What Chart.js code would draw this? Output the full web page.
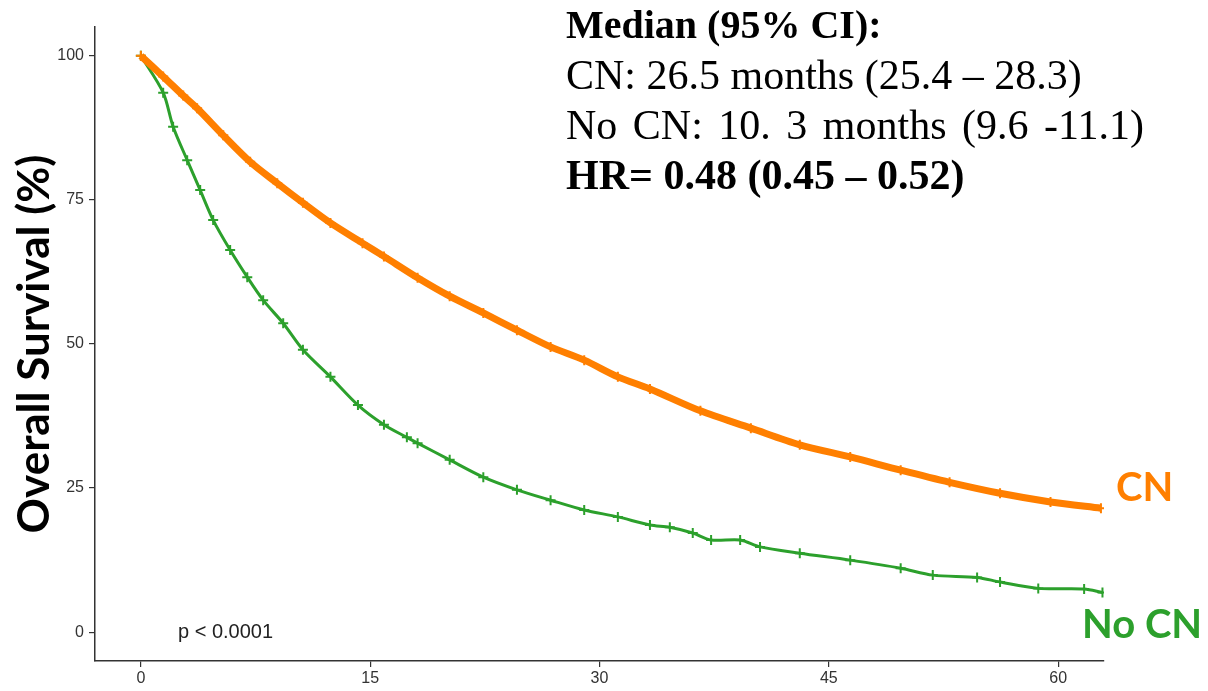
<!DOCTYPE html>
<html>
<head>
<meta charset="utf-8">
<script src="https://cdn.jsdelivr.net/npm/chart.js@4.4.1/dist/chart.umd.min.js"></script>
<style>
  body { margin: 0; background: #fff; }
  #wrap { position: relative; width: 1208px; height: 691px; }
  .note { position: absolute; font-family: "Liberation Serif", "Times New Roman", serif; font-size: 42px; line-height: 50px; color: #000; white-space: nowrap; }
  .lbl { position: absolute; font-family: Lato, "Open Sans", sans-serif; font-weight: bold; font-size: 40px; line-height: 40px; white-space: nowrap; }
</style>
</head>
<body>
<div id="wrap">
  <canvas id="km"></canvas>
  <div class="note" style="left:566px; top:-1px;">
    <b style="font-size:40px">Median (95% CI):</b><br>
    CN: 26.5 months (25.4 – 28.3)<br>
    <span style="word-spacing:5px">No CN: 10. 3 months (9.6 -11.1)</span><br>
    <b>HR= 0.48 (0.45 – 0.52)</b>
  </div>
  <div class="lbl" style="left:1116px; top:466px; color:#ff7f00;">CN</div>
  <div class="lbl" style="left:1082px; top:603px; color:#2ca02c;">No CN</div>
  <div style="position:absolute; left:178px; top:620px; font-family:'Liberation Sans', Arial, sans-serif; font-size:20px; color:#222;">p &lt; 0.0001</div>
</div>
<script>
// survival curves (months, % alive)
const cnMonths = [0, 1.46, 2.77, 3.68, 5.39, 7.15, 8.92, 10.6, 12.4, 14.5, 15.9, 18.1, 20.2, 22.4, 24.6, 26.8, 29.0, 31.2, 33.3, 36.6, 39.9, 43.1, 46.4, 49.7, 52.9, 56.2, 59.5, 62.8];
const cnSurv   = [100, 96.4, 93.1, 90.9, 86.2, 81.6, 77.9, 74.5, 71.0, 67.5, 65.2, 61.5, 58.3, 55.4, 52.4, 49.5, 47.2, 44.3, 42.2, 38.4, 35.4, 32.5, 30.4, 28.1, 26.0, 24.1, 22.6, 21.5];

const noCnMonths = [0, 1.46, 2.11, 3.03, 3.88, 4.73, 5.84, 6.96, 8.0, 9.31, 10.6, 12.4, 14.2, 15.9, 17.4, 18.1, 20.2, 22.4, 24.6, 26.8, 29.0, 31.2, 33.3, 34.6, 36.1, 37.3, 39.2, 40.5, 43.1, 46.4, 49.7, 51.8, 54.7, 56.2, 58.7, 61.7, 62.9];
const noCnSurv   = [100, 93.6, 87.7, 81.9, 76.7, 71.5, 66.3, 61.6, 57.6, 53.6, 49.0, 44.3, 39.4, 36.0, 33.8, 32.8, 29.9, 26.9, 24.7, 22.9, 21.2, 20.0, 18.6, 18.2, 17.2, 16.0, 16.0, 14.8, 13.7, 12.5, 11.1, 9.9, 9.5, 8.7, 7.6, 7.5, 6.9];

const xTicks = [0, 15, 30, 45, 60];
const yTicks = [0, 25, 50, 75, 100];

const toPoints = (xs, ys) => xs.map((x, i) => ({ x: x, y: ys[i] }));

const tickFont = { family: "'Liberation Sans', Arial, sans-serif", size: 16 };

new Chart(document.getElementById('km'), {
    type: 'line',
    data: {
        datasets: [
            {
                label: 'CN',
                data: toPoints(cnMonths, cnSurv),
                borderColor: '#ff7f00',
                backgroundColor: '#ff7f00',
                borderWidth: 7,
                pointStyle: 'cross',
                pointRadius: 5,
                pointBorderWidth: 2,
                tension: 0.3
            },
            {
                label: 'No CN',
                data: toPoints(noCnMonths, noCnSurv),
                borderColor: '#2ca02c',
                backgroundColor: '#2ca02c',
                borderWidth: 3,
                pointStyle: 'cross',
                pointRadius: 5,
                pointBorderWidth: 2,
                tension: 0.3
            }
        ]
    },
    options: {
        responsive: true,
        maintainAspectRatio: false,
        animation: false,
        layout: { padding: { top: 27, right: 104, left: 0, bottom: 0 } },
        plugins: {
            legend: { display: false },
            tooltip: { enabled: false }
        },
        scales: {
            x: {
                type: 'linear',
                min: -3,
                max: 63,
                afterBuildTicks: s => { s.ticks = xTicks.map(v => ({ value: v })); },
                afterFit: s => { s.height = 30; },
                grid: { display: true, drawOnChartArea: false, tickLength: 6, color: '#333', lineWidth: 1.2 },
                border: { color: '#333', width: 1.5 },
                ticks: { color: '#333', font: tickFont, padding: 2, maxRotation: 0 }
            },
            y: {
                min: -5,
                max: 105,
                afterBuildTicks: s => { s.ticks = yTicks.map(v => ({ value: v })); },
                afterFit: s => { s.width = 95; },
                grid: { display: true, drawOnChartArea: false, tickLength: 6, color: '#333', lineWidth: 1.2 },
                border: { color: '#333', width: 1.5 },
                ticks: { color: '#333', font: tickFont, padding: 5 },
                title: {
                    display: true,
                    text: 'Overall Survival (%)',
                    color: '#000',
                    font: { family: "Lato, 'Open Sans', sans-serif", size: 44, weight: 'bold' },
                    padding: { top: 8, bottom: 0 }
                }
            }
        }
    }
});
</script>
</body>
</html>
